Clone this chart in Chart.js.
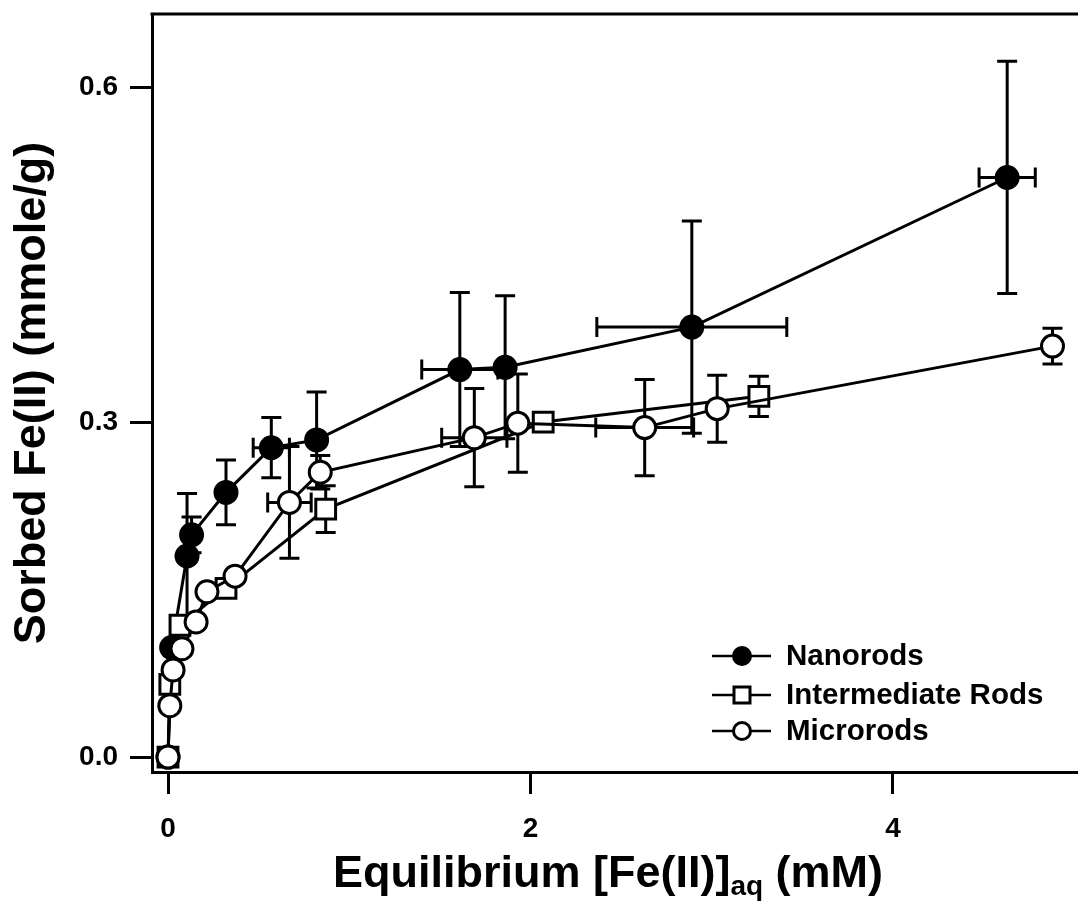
<!DOCTYPE html>
<html>
<head>
<meta charset="utf-8">
<script src="https://cdn.jsdelivr.net/npm/chart.js@4.4.0/dist/chart.umd.min.js"></script>
<style>
  html, body { margin: 0; padding: 0; background: #fff; }
  #wrap { width: 1078px; height: 903px; }
</style>
</head>
<body>
<div id="wrap"><canvas id="isotherm" width="1078" height="903"></canvas></div>
<script>
// values (mM, mmole/g)
const nanoX    = [0, 0.02, 0.105, 0.13, 0.32, 0.57, 0.82, 1.61, 1.86, 2.89, 4.63];
const nanoY    = [0, 0.098, 0.180, 0.199, 0.237, 0.277, 0.284, 0.347, 0.349, 0.385, 0.519];
const nanoYErr = [0, 0, 0.056, 0.016, 0.029, 0.027, 0.043, 0.069, 0.064, 0.095, 0.104];
const nanoXErr = [0, 0, 0, 0, 0, 0.10, 0, 0.21, 0, 0.524, 0.155];

const interX    = [0, 0.01, 0.066, 0.32, 0.87, 2.07, 3.26];
const interY    = [0, 0.065, 0.118, 0.151, 0.222, 0.300, 0.323];
const interYErr = [0, 0, 0, 0, 0.021, 0, 0.018];
const interXErr = [0, 0, 0, 0, 0, 0, 0];

const microX    = [0, 0.01, 0.028, 0.077, 0.155, 0.215, 0.37, 0.67, 0.84, 1.69, 1.93, 2.63, 3.03, 4.88];
const microY    = [0, 0.046, 0.078, 0.097, 0.121, 0.148, 0.162, 0.228, 0.255, 0.286, 0.299, 0.295, 0.312, 0.368];
const microYErr = [0, 0, 0, 0, 0, 0, 0, 0.05, 0.015, 0.044, 0.044, 0.043, 0.030, 0.016];
const microXErr = [0, 0, 0, 0, 0, 0, 0, 0.12, 0, 0.18, 0, 0.27, 0, 0];

const seriesNames = ["Nanorods", "Intermediate Rods", "Microrods"];
const xTicks = [0, 2, 4];
const yTicks = [0.0, 0.3, 0.6];

const FONT = "'Liberation Sans', Arial, sans-serif";

function toPoints(xs, ys) {
  return xs.map((x, i) => ({ x: x, y: ys[i] }));
}

// error bars, drawn just under each dataset
const errorBars = {
  id: 'errorBars',
  beforeDatasetDraw(chart, args) {
    const ds = chart.data.datasets[args.index];
    const sx = chart.scales.x, sy = chart.scales.y;
    const ctx = chart.ctx;
    const cap = 10;
    ctx.save();
    ctx.strokeStyle = '#000';
    ctx.lineWidth = 3;
    ds.data.forEach((p, i) => {
      const px = sx.getPixelForValue(p.x);
      const py = sy.getPixelForValue(p.y);
      const ey = ds.yErr[i], ex = ds.xErr[i];
      ctx.beginPath();
      if (ey) {
        const t = sy.getPixelForValue(p.y + ey), b = sy.getPixelForValue(p.y - ey);
        ctx.moveTo(px, t); ctx.lineTo(px, b);
        ctx.moveTo(px - cap, t); ctx.lineTo(px + cap, t);
        ctx.moveTo(px - cap, b); ctx.lineTo(px + cap, b);
      }
      if (ex) {
        const l = sx.getPixelForValue(p.x - ex), r = sx.getPixelForValue(p.x + ex);
        ctx.moveTo(l, py); ctx.lineTo(r, py);
        ctx.moveTo(l, py - cap); ctx.lineTo(l, py + cap);
        ctx.moveTo(r, py - cap); ctx.lineTo(r, py + cap);
      }
      ctx.stroke();
    });
    ctx.restore();
  }
};

// top frame line, x title with subscript, legend
const decorations = {
  id: 'decorations',
  afterDraw(chart) {
    const ctx = chart.ctx;
    const area = chart.chartArea;
    ctx.save();
    ctx.strokeStyle = '#000';
    ctx.lineWidth = 3;
    ctx.beginPath();
    ctx.moveTo(area.left - 1.5, area.top);
    ctx.lineTo(area.right, area.top);
    ctx.stroke();

    // x axis title
    const main = "bold 45px " + FONT, sub = "bold 28px " + FONT;
    const part1 = "Equilibrium [Fe(II)]", part2 = "aq", part3 = " (mM)";
    ctx.fillStyle = '#000';
    ctx.textBaseline = 'alphabetic';
    ctx.textAlign = 'left';
    ctx.font = main;
    const w1 = ctx.measureText(part1).width, w3 = ctx.measureText(part3).width;
    ctx.font = sub;
    const w2 = ctx.measureText(part2).width;
    let x = 608 - (w1 + w2 + w3) / 2;
    const base = 887;
    ctx.font = main; ctx.fillText(part1, x, base); x += w1;
    ctx.font = sub; ctx.fillText(part2, x, base + 8); x += w2;
    ctx.font = main; ctx.fillText(part3, x, base);

    // legend
    const rows = [656, 695, 731];
    ctx.font = "bold 29.5px " + FONT;
    ctx.textBaseline = 'middle';
    rows.forEach((y, i) => {
      ctx.lineWidth = 2.5;
      ctx.beginPath();
      ctx.moveTo(712, y); ctx.lineTo(771, y);
      ctx.stroke();
      ctx.lineWidth = 3;
      ctx.beginPath();
      if (i === 1) {
        ctx.rect(742 - 8, y - 8, 16, 16);
      } else {
        ctx.arc(742, y, 8.5, 0, Math.PI * 2);
      }
      ctx.fillStyle = i === 0 ? '#000' : '#fff';
      ctx.fill();
      ctx.stroke();
      ctx.fillStyle = '#000';
      ctx.fillText(seriesNames[i], 786, y + 1);
    });
    ctx.restore();
  }
};

const common = {
  showLine: true,
  borderColor: '#000',
  borderWidth: 3,
  tension: 0,
  pointBorderColor: '#000',
  pointBorderWidth: 3
};

new Chart(document.getElementById('isotherm').getContext('2d'), {
  type: 'scatter',
  data: {
    datasets: [
      Object.assign({}, common, {
        label: seriesNames[0],
        data: toPoints(nanoX, nanoY),
        yErr: nanoYErr, xErr: nanoXErr,
        pointStyle: 'circle', pointRadius: 11,
        pointBackgroundColor: '#000',
        order: 3
      }),
      Object.assign({}, common, {
        label: seriesNames[1],
        data: toPoints(interX, interY),
        yErr: interYErr, xErr: interXErr,
        pointStyle: 'rect', pointRadius: 14,
        pointBackgroundColor: '#fff',
        order: 2
      }),
      Object.assign({}, common, {
        label: seriesNames[2],
        data: toPoints(microX, microY),
        yErr: microYErr, xErr: microXErr,
        pointStyle: 'circle', pointRadius: 11,
        pointBackgroundColor: '#fff',
        order: 1
      })
    ]
  },
  options: {
    responsive: false,
    animation: false,
    layout: { autoPadding: false, padding: { top: 14, right: 0, left: 0, bottom: 0 } },
    plugins: {
      legend: { display: false },
      tooltip: { enabled: false }
    },
    scales: {
      x: {
        type: 'linear',
        min: -0.0883,
        max: 5.0207,
        afterBuildTicks: s => { s.ticks = xTicks.map(v => ({ value: v })); },
        afterFit: s => { s.height = 131; s.paddingLeft = 0; s.paddingRight = 0; },
        border: { display: true, color: '#000', width: 3 },
        grid: { drawOnChartArea: false, drawTicks: true, tickLength: 22, color: '#000', lineWidth: 3 },
        ticks: {
          color: '#000',
          padding: 18,
          maxRotation: 0,
          font: { family: FONT, size: 28, weight: 'bold' },
          callback: v => String(v)
        }
      },
      y: {
        type: 'linear',
        min: -0.0134,
        max: 0.6654,
        afterBuildTicks: s => { s.ticks = yTicks.map(v => ({ value: v })); },
        afterFit: s => { s.width = 152; s.paddingTop = 0; s.paddingBottom = 0; },
        border: { display: true, color: '#000', width: 3 },
        grid: { drawOnChartArea: false, drawTicks: true, tickLength: 22, color: '#000', lineWidth: 3 },
        ticks: {
          color: '#000',
          padding: 12,
          font: { family: FONT, size: 28, weight: 'bold' },
          callback: v => v.toFixed(1)
        },
        title: {
          display: true,
          text: 'Sorbed Fe(II) (mmole/g)',
          color: '#000',
          padding: { top: 6, bottom: 0 },
          font: { family: FONT, size: 45, weight: 'bold' }
        }
      }
    }
  },
  plugins: [errorBars, decorations]
});
</script>
</body>
</html>
